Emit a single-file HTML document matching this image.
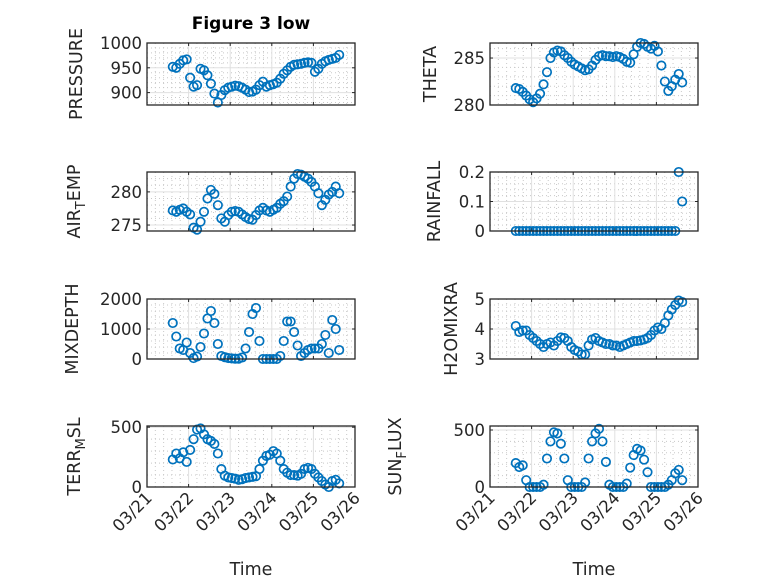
<!DOCTYPE html>
<html><head><meta charset="utf-8"><style>
html,body{margin:0;padding:0;background:#fff;}
svg{display:block;font-family:"DejaVu Sans","Liberation Sans",sans-serif;}
</style></head><body>
<svg id="fig" width="778" height="583" viewBox="0 0 778 583" xmlns="http://www.w3.org/2000/svg">
<rect x="0" y="0" width="778" height="583" fill="#fff"/>
<text x="251" y="29" text-anchor="middle" font-size="17" font-weight="bold" fill="#000">Figure 3 low</text>
</svg>
<script>
// time in days after 03/21 00:00
const tStart = 0.62;
const tStep = 1/12;
const xTickLabels = ["03/21","03/22","03/23","03/24","03/25","03/26"];

const pressure = [952,950,958,965,967,930,912,915,948,945,935,918,898,880,895,905,910,912,914,913,910,906,901,902,906,915,922,912,915,917,920,928,938,945,952,956,957,958,960,961,960,942,948,958,963,966,968,970,976];
const theta = [281.8,281.7,281.4,281.0,280.6,280.3,280.7,281.2,282.2,283.5,285.0,285.6,285.8,285.7,285.3,285.0,284.6,284.3,284.1,283.9,283.7,283.8,284.2,284.8,285.2,285.3,285.2,285.2,285.1,285.2,285.1,284.9,284.6,284.5,285.4,286.2,286.6,286.5,286.2,286.0,286.3,285.7,284.2,282.5,281.5,282.0,282.7,283.3,282.4];
const airTemp = [277.2,277.0,277.3,277.5,277.0,276.6,274.6,274.3,275.5,277.0,279.0,280.3,279.7,278.0,276.0,275.5,276.5,277.0,277.1,277.0,276.6,276.2,275.9,275.8,276.5,277.2,277.6,277.2,277.0,277.3,277.6,278.2,278.6,279.3,280.8,282.0,282.7,282.6,282.3,282.0,281.5,280.8,279.8,278.0,278.8,279.6,280.0,280.8,279.8];
const rainfall = [0,0,0,0,0,0,0,0,0,0,0,0,0,0,0,0,0,0,0,0,0,0,0,0,0,0,0,0,0,0,0,0,0,0,0,0,0,0,0,0,0,0,0,0,0,0,0,0.2,0.1];
const mixDepth = [1200,750,350,300,550,200,30,80,400,850,1350,1600,1200,500,100,60,30,20,10,10,50,350,900,1500,1700,600,0,0,0,0,0,100,600,1250,1250,900,450,100,200,300,350,350,350,500,800,200,1300,1000,300];
const h2oMixRa = [4.1,3.9,3.95,3.95,3.8,3.7,3.6,3.5,3.4,3.5,3.55,3.45,3.6,3.72,3.7,3.6,3.4,3.3,3.25,3.15,3.15,3.45,3.65,3.7,3.6,3.55,3.5,3.5,3.45,3.45,3.4,3.45,3.5,3.55,3.6,3.6,3.62,3.65,3.7,3.8,3.95,4.05,4.0,4.2,4.45,4.65,4.8,4.95,4.9];
const terrMsl = [230,280,240,290,210,310,400,480,490,440,400,385,360,280,150,95,80,75,70,60,65,75,80,85,90,150,220,260,270,300,280,220,150,120,100,100,95,110,150,160,150,110,80,50,20,0,50,60,30];
const sunFlux = [210,175,190,60,0,0,0,0,20,250,400,480,470,380,250,60,0,0,0,0,40,250,400,470,510,400,220,20,0,0,0,0,30,170,280,335,320,240,130,0,0,0,0,0,20,60,120,150,60];

const pressureTicks = [900,950,1000];
const thetaTicks = [280,285];
const airTempTicks = [275,280];
const rainTicks = [0,0.1,0.2];
const mixTicks = [0,1000,2000];
const h2oTicks = [3,4,5];
const terrTicks = [0,500];
const sunTicks = [0,500];

const NS = "http://www.w3.org/2000/svg";
const svg = document.getElementById("fig");
function mk(tag, attrs, parent){
  const e = document.createElementNS(NS, tag);
  for (const k in attrs) e.setAttribute(k, attrs[k]);
  (parent||svg).appendChild(e);
  return e;
}
const colL = 147, colR = 490, axW = 208;
const rows = [[43,105],[172,231],[299,359],[426,487]];
const panels = [
  {name:"pressure", data:pressure, ticks:pressureTicks, min:875, max:1000, minor:10, col:colL, row:0, label:["PRESSURE"], lx:76},
  {name:"theta", data:theta, ticks:thetaTicks, min:280, max:286.6, minor:1, col:colR, row:0, label:["THETA"], lx:430},
  {name:"air-temp", data:airTemp, ticks:airTempTicks, min:274.1, max:283, minor:1, col:colL, row:1, label:["AIR","T","EMP"], lx:74},
  {name:"rainfall", data:rainfall, ticks:rainTicks, min:0, max:0.2, minor:0.02, col:colR, row:1, label:["RAINFALL"], lx:434},
  {name:"mixdepth", data:mixDepth, ticks:mixTicks, min:0, max:2000, minor:200, col:colL, row:2, label:["MIXDEPTH"], lx:72},
  {name:"h2omixra", data:h2oMixRa, ticks:h2oTicks, min:3, max:5, minor:0.2, col:colR, row:2, label:["H2OMIXRA"], lx:451},
  {name:"terr-msl", data:terrMsl, ticks:terrTicks, min:0, max:510, minor:100, col:colL, row:3, label:["TERR","M","SL"], lx:74},
  {name:"sun-flux", data:sunFlux, ticks:sunTicks, min:0, max:535, minor:100, col:colR, row:3, label:["SUN","F","LUX"], lx:395}
];

panels.forEach(p => {
  const x0 = p.col, x1 = p.col + axW, y0 = rows[p.row][0], y1 = rows[p.row][1];
  const xs = t => x0 + (t/5)*axW;
  const ys = v => y1 - (v - p.min)/(p.max - p.min)*(y1 - y0);
  const g = mk("g", {});
  
  
  mk("rect", {x:x0, y:y0, width:axW, height:y1-y0, fill:"#fff"}, g);
  for (let k=0; k<=25; k++){
    if (k%5===0) continue;
    const x = xs(k/5);
    mk("line", {x1:x, x2:x, y1:y0, y2:y1, stroke:"#c8c8c8", "stroke-width":1, "stroke-dasharray":"1 3"}, g);
  }
  const start = Math.ceil(p.min/p.minor - 1e-6);
  for (let k=start; k*p.minor <= p.max + 1e-9; k++){
    const v = k*p.minor;
    const isMajor = p.ticks.some(tk => Math.abs(tk - v) < 1e-6);
    if (isMajor) continue;
    const y = ys(v);
    mk("line", {x1:x0, x2:x1, y1:y, y2:y, stroke:"#c8c8c8", "stroke-width":1, "stroke-dasharray":"1 3"}, g);
  }
  for (let d=1; d<5; d++){
    const x = xs(d);
    mk("line", {x1:x, x2:x, y1:y0, y2:y1, stroke:"#e0e0e0", "stroke-width":1}, g);
  }
  p.ticks.forEach(v => {
    const y = ys(v);
    if (y > y0+1 && y < y1-1) mk("line", {x1:x0, x2:x1, y1:y, y2:y, stroke:"#e0e0e0", "stroke-width":1}, g);
    mk("line", {x1:x0, x2:x0+3, y1:y, y2:y, stroke:"#262626", "stroke-width":1}, g);
    mk("line", {x1:x1, x2:x1-3, y1:y, y2:y, stroke:"#262626", "stroke-width":1}, g);
    const tl = mk("text", {x:x0-5, y:y+6, "text-anchor":"end", "font-size":16.5, fill:"#262626"}, g);
    
    
    tl.textContent = String(v);
  });
  for (let d=0; d<=5; d++){
    const x = xs(d);
    mk("line", {x1:x, x2:x, y1:y1, y2:y1-3, stroke:"#262626", "stroke-width":1}, g);
    mk("line", {x1:x, x2:x, y1:y0, y2:y0+3, stroke:"#262626", "stroke-width":1}, g);
  }
  p.data.forEach((v, i) => {
    const c = mk("circle", {cx:xs(tStart + i*tStep), cy:ys(v), r:4.2, fill:"none", stroke:"#0072BD", "stroke-width":1.7}, g);
    
    
  });
  const box = mk("rect", {x:x0, y:y0, width:axW, height:y1-y0, fill:"none", stroke:"#262626", "stroke-width":1.3}, g);
  
  
  const cy = (y0+y1)/2;
  const lbl = mk("text", {x:0, y:0, "text-anchor":"middle", "font-size":17.5, fill:"#262626", transform:`translate(${p.lx+6},${cy}) rotate(-90)`}, g);
  
  
  if (p.label.length === 1) { lbl.textContent = p.label[0]; }
  else {
    const a = mk("tspan", {}, lbl); a.textContent = p.label[0];
    const b = mk("tspan", {dy:5, "font-size":13}, lbl); b.textContent = p.label[1];
    const c2 = mk("tspan", {dy:-5}, lbl); c2.textContent = p.label[2];
  }
  if (p.row === 3){
    xTickLabels.forEach((s, d) => {
      const x = xs(d);
      const t = mk("text", {x:0, y:0, "text-anchor":"end", "font-size":16.5, fill:"#262626", transform:`translate(${x+6},${y1+12}) rotate(-45)`}, g);
      
      
      t.textContent = s;
    });
    const xt = mk("text", {x:x0+axW/2, y:575, "text-anchor":"middle", "font-size":17.5, fill:"#262626"}, g);
    
    
    xt.textContent = "Time";
  }
});
</script>
</body></html>
